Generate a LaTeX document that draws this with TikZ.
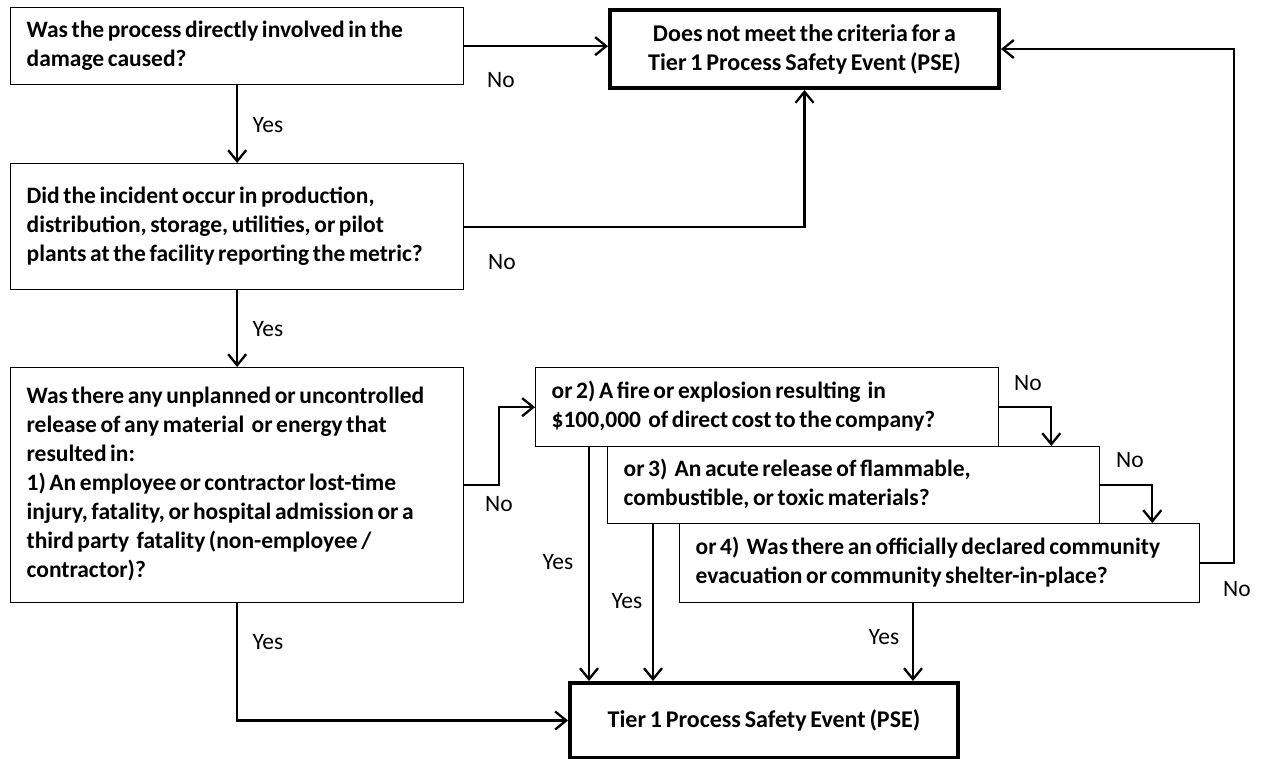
\documentclass[tikz,border=0pt]{standalone}
\usepackage{fontspec}
\setmainfont[WordSpace={0.7,0,0}]{Carlito}
\usetikzlibrary{arrows.meta,calc}
\newcommand{\qlines}[1]{\spaceskip=3.6pt\relax\begin{tabular}{@{}l@{}}#1\end{tabular}}
\begin{document}
\begin{tikzpicture}[x=1pt,y=-1pt,
  box/.style={draw=black, line width=1.3pt, fill=white, anchor=north west,
    inner xsep=16pt, inner ysep=0pt, align=left,
    font=\bfseries\fontsize{23.5}{29}\selectfont},
  endbox/.style={draw=black, line width=4pt, fill=white, anchor=north west,
    inner sep=0pt, align=center, font=\bfseries\fontsize{24}{29}\selectfont},
  lbl/.style={inner sep=0pt, font=\fontsize{23.5}{28}\selectfont},
  arr/.style={line width=2.3pt, -{Straight Barb[length=11pt,width=18pt]}}]
\useasboundingbox (0,0) rectangle (1264,758);
% question boxes
\node[box, minimum width=453, minimum height=77, text width=421] (A) at (10,7)
  {\qlines{Was the process directly involved in the\\damage caused?}};
\node[box, minimum width=453, minimum height=126, text width=421] (B) at (10,163)
  {\qlines{Did the incident occur in production,\\distribution, storage, utilities, or pilot\\plants at the facility reporting the metric?}};
\node[box, minimum width=453, minimum height=235, text width=421] (C) at (10,367)
  {\qlines{Was there any unplanned or uncontrolled\\release of any material \ or energy that\\resulted in:\\1) An employee or contractor lost-time\\injury, fatality, or hospital admission or a\\third party \ fatality (non-employee /\\contractor)?}};
\node[box, minimum width=463, minimum height=79, text width=431] (Q2) at (535,367)
  {\qlines{or 2) A fire or explosion resulting \ in\\\$100,000 \ of direct cost to the company?}};
\node[box, minimum width=492, minimum height=77, text width=460] (Q3) at (607,446)
  {\qlines{or 3) \ An acute release of flammable,\\combustible, or toxic materials?}};
\node[box, minimum width=520, minimum height=79, text width=488] (Q4) at (679,523)
  {\qlines{or 4) \ Was there an officially declared community\\evacuation or community shelter-in-place?}};
% outcome boxes
\node[endbox, minimum width=389, minimum height=78] (NOT) at (608,8)
  {Does not meet the criteria for a\\Tier 1 Process Safety Event (PSE)};
\node[endbox, minimum width=388, minimum height=75] (PSE) at (568,681)
  {Tier 1 Process Safety Event (PSE)};
% connectors
\draw[arr] (A.east) -- (A.east -| NOT.west);
\node[lbl] (lA) at (501,80) {No};
\draw[arr] (A.south) -- (B.north);
\node[lbl] (yA) at (268,125) {Yes};
\draw[arr] (B.east) -| (NOT.south);
\node[lbl] (lB) at (502,262) {No};
\draw[arr] (B.south) -- (C.north);
\node[lbl] (yB) at (268,329) {Yes};
\draw[arr] (C.east) -- ++(35,0) |- (Q2.west);
\node[lbl] (lC) at (499,504) {No};
\draw[arr] (C.south) |- (PSE.west);
\node[lbl] (yC) at (268,642) {Yes};
\draw[arr] ([xshift=54pt]Q2.south west) -- ([xshift=54pt]Q2.south west |- PSE.north);
\node[lbl] (y2) at (558,562) {Yes};
\draw[arr] ([xshift=46pt]Q3.south west) -- ([xshift=46pt]Q3.south west |- PSE.north);
\node[lbl] (y3) at (627,601) {Yes};
\draw[arr] ([xshift=234pt]Q4.south west) -- ([xshift=234pt]Q4.south west |- PSE.north);
\node[lbl] (y4) at (884,637) {Yes};
\draw[arr] (Q2.east) -| ([xshift=-49pt]Q3.north east);
\node[lbl] (l2) at (1028,383) {No};
\draw[arr] (Q3.east) -| ([xshift=-48pt]Q4.north east);
\node[lbl] (l3) at (1130,460) {No};
\draw[arr] (Q4.east) -- ++(34,0) |- (NOT.east);
\node[lbl] (l4) at (1237,589) {No};
\end{tikzpicture}
\end{document}
